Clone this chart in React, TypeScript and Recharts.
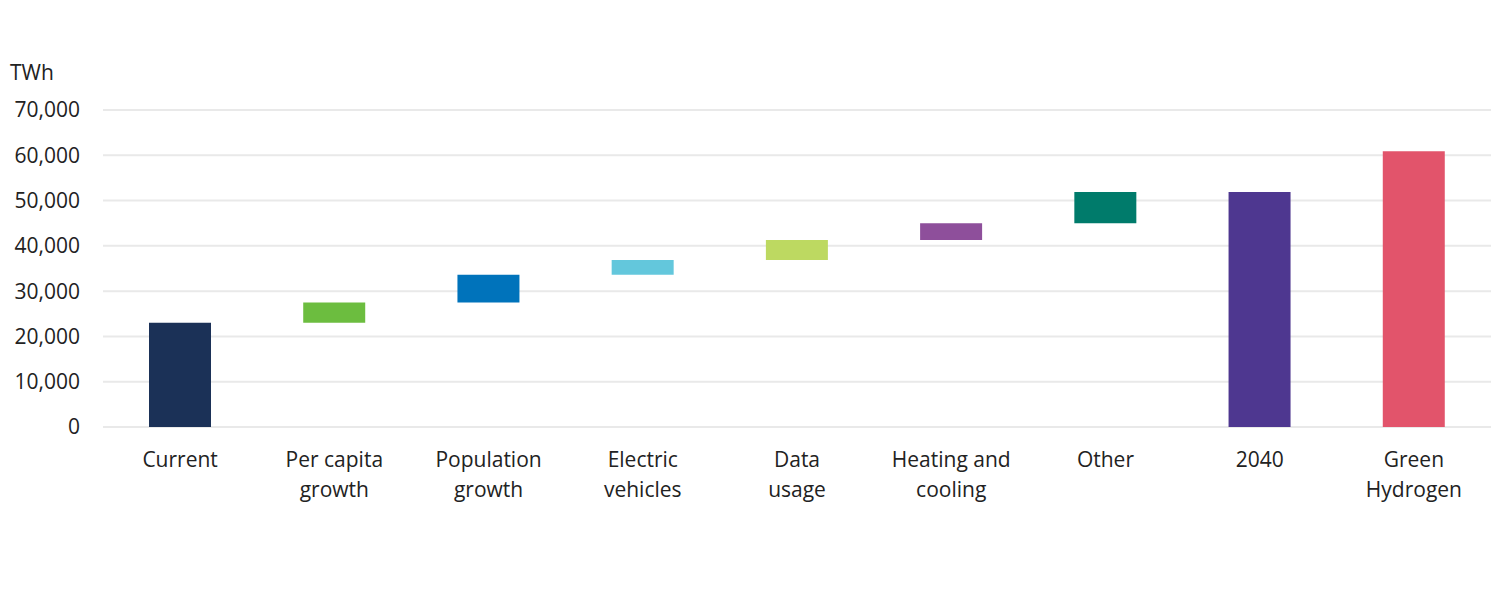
import { BarChart, Bar, XAxis, YAxis, CartesianGrid, Cell } from "recharts";

// waterfall: invisible base + visible step
const categories = [
  "Current",
  "Per capita growth",
  "Population growth",
  "Electric vehicles",
  "Data usage",
  "Heating and cooling",
  "Other",
  "2040",
  "Green Hydrogen",
];
const baseValues = [0, 23000, 27500, 33600, 36900, 41300, 45000, 0, 0];
const stepValues = [23000, 4500, 6100, 3300, 4400, 3700, 6900, 51900, 60900];
const barColors = [
  "#1b3157",
  "#6cbd3f",
  "#0073bb",
  "#63c7dc",
  "#bdd961",
  "#8e4f9b",
  "#007b6b",
  "#4e3790",
  "#e2546b",
];
const yTicks = [0, 10000, 20000, 30000, 40000, 50000, 60000, 70000];

const labelLines: Record<string, string[]> = {
  Current: ["Current"],
  "Per capita growth": ["Per capita", "growth"],
  "Population growth": ["Population", "growth"],
  "Electric vehicles": ["Electric", "vehicles"],
  "Data usage": ["Data", "usage"],
  "Heating and cooling": ["Heating and", "cooling"],
  Other: ["Other"],
  "2040": ["2040"],
  "Green Hydrogen": ["Green", "Hydrogen"],
};

const FONT = "'Open Sans', 'Noto Sans', sans-serif";

function CategoryTick({ x, y, payload }: any) {
  const lines = labelLines[payload.value] ?? [payload.value];
  return (
    <text x={x} y={y} textAnchor="middle" fill="#222" fontSize={21} fontFamily={FONT}>
      {lines.map((l, i) => (
        <tspan key={i} x={x} dy={i === 0 ? 32 : 30}>
          {l}
        </tspan>
      ))}
    </text>
  );
}

export default function App() {
  const data = categories.map((c, i) => ({
    name: c,
    base: baseValues[i],
    step: stepValues[i],
  }));

  return (
    <div style={{ position: "relative", width: 1491, height: 583, fontFamily: FONT }}>
      <div
        style={{
          position: "absolute",
          left: 2,
          top: 50,
          fontSize: 21,
          color: "#222",
          fontFamily: FONT,
        }}
      >
        TWh
      </div>
      <BarChart
        width={1491}
        height={560}
        data={data}
        margin={{ top: 102, right: 8, left: 0, bottom: 81 }}
        barCategoryGap="20%"
      >
        <CartesianGrid vertical={false} stroke="#e9e9e9" strokeWidth={2} />
        <XAxis
          dataKey="name"
          axisLine={false}
          tickLine={false}
          interval={0}
          height={60}
          tick={<CategoryTick />}
        />
        <YAxis
          width={95}
          domain={[0, 70000]}
          ticks={yTicks}
          axisLine={false}
          tickLine={false}
          tickMargin={17}
          tickFormatter={(v) => Number(v).toLocaleString("en-US")}
          tick={{ fill: "#222", fontSize: 21, fontFamily: FONT }}
        />
        <Bar dataKey="base" stackId="w" fill="transparent" isAnimationActive={false} barSize={62} />
        <Bar dataKey="step" stackId="w" isAnimationActive={false} barSize={62}>
          {data.map((_, i) => (
            <Cell key={i} fill={barColors[i]} />
          ))}
        </Bar>
      </BarChart>
    </div>
  );
}
